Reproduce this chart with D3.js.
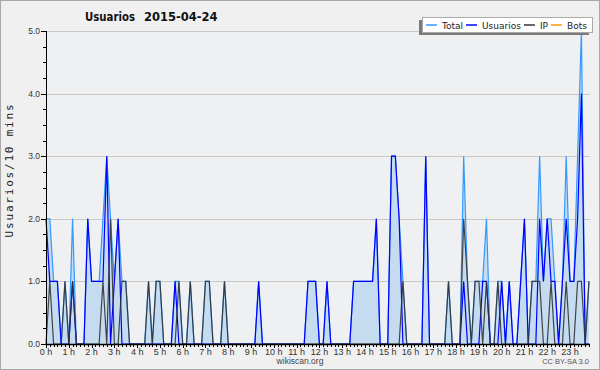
<!DOCTYPE html>
<html><head><meta charset="utf-8">
<script src="https://cdn.jsdelivr.net/npm/d3@7"></script>
<style>
html,body{margin:0;padding:0;background:#f0f0f0;}
svg{display:block;}
text{font-family:"DejaVu Sans",Verdana,sans-serif;}
.ax{font-family:"Liberation Sans",Arial,sans-serif;}
</style></head><body>
<svg id="chart" width="600" height="370"></svg>
<script>
// 10-minute slots, 2015-04-24 (144 slots, 0:00 .. 23:50)
const usuarios = [2,1,1,1,0,0,0,1,0,0,0,2,1,1,1,1,3,0,1,2,0,0,0,0,0,0,0,0,0,0,
  0,0,0,0,1,0,0,0,0,0,0,0,0,0,0,0,0,0,0,0,0,0,0,0,0,0,1,0,0,0,
  0,0,0,0,0,0,0,0,0,1,1,1,0,0,1,0,0,0,0,0,0,1,1,1,1,1,1,2,0,0,
  0,3,3,2,0,0,0,0,0,0,3,0,0,0,0,0,0,0,0,0,1,0,0,0,0,1,1,0,0,0,
  1,0,1,0,0,1,2,0,0,0,2,1,2,1,1,0,1,2,1,1,2,4,0,0];
const ip = [0,1,0,0,0,1,0,1,0,0,0,0,0,0,0,1,0,2,0,0,1,1,0,0,0,0,0,1,0,1,
  1,0,0,0,0,1,0,0,1,0,0,0,1,1,0,0,0,1,0,0,0,0,0,0,0,0,0,0,0,0,
  0,0,0,0,0,0,0,0,0,0,0,0,0,0,0,0,0,0,0,0,0,0,0,0,0,0,0,0,0,0,
  0,0,0,0,1,0,0,0,0,0,0,0,0,0,0,0,1,0,0,0,2,1,0,1,1,0,1,0,0,1,
  0,0,0,0,0,0,0,0,1,1,1,0,0,1,0,0,0,1,0,0,1,1,0,1];
const bots = new Array(144).fill(0);
const total = usuarios.map((u,i)=>u+ip[i]+bots[i]);
const hourLabels = d3.range(24).map(h=>h+" h");
const yTicks = [0,1,2,3,4,5];
const titleText = ["Usuarios","2015-04-24"];
const legendItems = [
  {name:"Total", color:"#3399ff"},
  {name:"Usuarios", color:"#0000ff"},
  {name:"IP", color:"#333333"},
  {name:"Bots", color:"#ff9900"}
];

const svg = d3.select("#chart");
const W=600,H=370;
const L=46,R=589,T=31,B=344;

svg.append("rect").attr("x",0.5).attr("y",0.5).attr("width",W-1).attr("height",H-1)
  .attr("fill","#f0f0f0").attr("stroke","#a8a8a8");

const x = d3.scaleLinear().domain([0,143]).range([L,R]);
const y = d3.scaleLinear().domain([0,5]).range([B,T]);

svg.append("rect").attr("x",L).attr("y",T).attr("width",R-L+1).attr("height",B-T)
  .attr("fill","#eef0f2");

svg.append("g").selectAll("line").data(yTicks.filter(d=>d>0)).join("line")
  .attr("x1",L).attr("x2",R+1).attr("y1",d=>Math.round(y(d))+0.5).attr("y2",d=>Math.round(y(d))+0.5)
  .attr("stroke","#c8c8c8").attr("stroke-width",1);

const idx = d3.range(144);
svg.append("path").datum(idx)
  .attr("d", d3.area().x(i=>x(i)).y0(y(0)).y1(i=>y(total[i])))
  .attr("fill","#c5dcf0");

const line = arr => d3.line().x(i=>x(i)).y(i=>y(arr[i]));
svg.append("path").datum(idx).attr("d",line(total)).attr("fill","none")
  .attr("stroke","#3399ff").attr("stroke-width",1.2);
svg.append("path").datum(idx).attr("d",line(usuarios)).attr("fill","none")
  .attr("stroke","#0000ff").attr("stroke-width",1.2);
svg.append("path").datum(idx).attr("d",line(ip)).attr("fill","none")
  .attr("stroke","#333333").attr("stroke-opacity",0.9).attr("stroke-width",1.2);

// y axis
const yAxis = svg.append("g");
yAxis.append("line").attr("x1",L+0.5).attr("x2",L+0.5).attr("y1",T).attr("y2",B+1)
  .attr("stroke","#000");
yAxis.selectAll("line.minor").data(d3.range(0,5.01,0.25)).join("line").attr("class","minor")
  .attr("x1",d=>(d%1===0)?L-5:L-3).attr("x2",L)
  .attr("y1",d=>Math.round(y(d))+0.5).attr("y2",d=>Math.round(y(d))+0.5)
  .attr("stroke","#000");
yAxis.selectAll("text").data(yTicks).join("text").attr("class","ax")
  .attr("x",L-6).attr("y",d=>y(d)+3).attr("text-anchor","end")
  .attr("font-size",8.5).attr("fill","#333").text(d=>d.toFixed(1));

// x axis
const xAxis = svg.append("g");
xAxis.append("line").attr("x1",L).attr("x2",R+1).attr("y1",B+0.5).attr("y2",B+0.5)
  .attr("stroke","#000").attr("stroke-width",1.5);
xAxis.selectAll("line.t").data(idx).join("line").attr("class","t")
  .attr("x1",i=>Math.round(x(i))+0.5).attr("x2",i=>Math.round(x(i))+0.5)
  .attr("y1",B).attr("y2",i=>i%6===0?B+4:B+3)
  .attr("stroke","#000");
xAxis.selectAll("text").data(hourLabels).join("text").attr("class","ax")
  .attr("x",(d,h)=>x(h*6)).attr("y",B+11).attr("text-anchor","middle")
  .attr("font-size",9).attr("fill","#333").text(d=>d);

// y label
svg.append("text").attr("transform",`translate(13,170) rotate(-90)`)
  .attr("text-anchor","middle")
  .style("font-family","'DejaVu Sans Mono',monospace").style("letter-spacing","1.8px")
  .attr("font-size",11).attr("fill","#222").text("Usuarios/10 mins");

// title
svg.append("text").attr("x",85).attr("y",21).attr("font-size",11.5).attr("font-weight","bold")
  .attr("fill","#111").attr("textLength",50).attr("lengthAdjust","spacingAndGlyphs").text(titleText[0]);
svg.append("text").attr("x",144).attr("y",21).attr("font-size",11.5).attr("font-weight","bold")
  .attr("fill","#111").text(titleText[1]);

// footer
svg.append("text").attr("class","ax").attr("x",300).attr("y",364).attr("text-anchor","middle")
  .attr("font-size",8.5).attr("fill","#444").text("wikiscan.org");
svg.append("text").attr("class","ax").attr("x",589).attr("y",364).attr("text-anchor","end")
  .attr("font-size",7.5).attr("fill","#555").text("CC BY-SA 3.0");

// legend
const lg = svg.append("g");
const lx=422, ly=17, lw=170, lh=15;
lg.append("rect").attr("x",lx-3).attr("y",ly+3).attr("width",lw).attr("height",lh).attr("fill","#7a7a7a");
lg.append("rect").attr("x",lx+0.5).attr("y",ly+0.5).attr("width",lw).attr("height",lh)
  .attr("fill","#fff").attr("stroke","#aaa");
let cx = lx+4;
legendItems.forEach(it=>{
  lg.append("line").attr("x1",cx).attr("x2",cx+11).attr("y1",ly+8).attr("y2",ly+8)
    .attr("stroke",it.color).attr("stroke-width",1.5);
  const t = lg.append("text").attr("x",cx+16).attr("y",ly+11.5).attr("font-size",9)
    .attr("fill","#222").text(it.name);
  cx += 16 + t.node().getComputedTextLength() + 3;
});
</script>
</body></html>
